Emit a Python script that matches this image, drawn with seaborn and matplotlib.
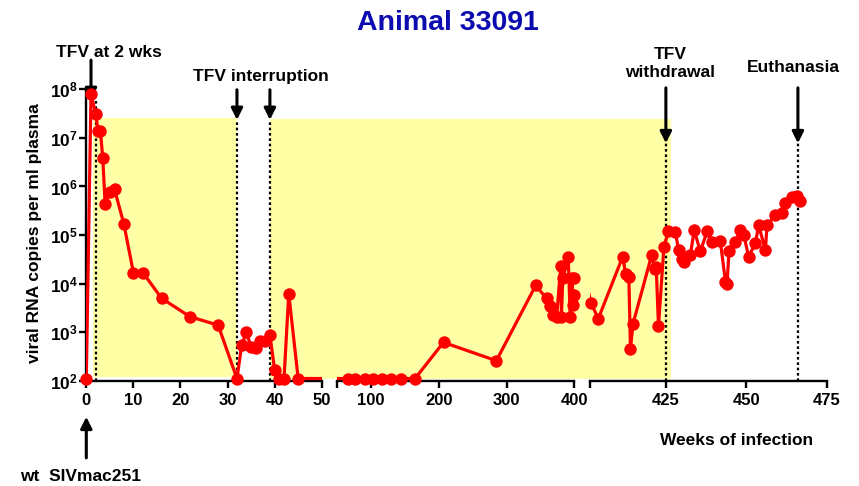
import numpy as np
import pandas as pd
import matplotlib
matplotlib.use('Agg')
import matplotlib.pyplot as plt
import seaborn as sns
from matplotlib.patches import Rectangle

# ---------------- data ----------------
weeks = [0, 1, 2, 2.5, 3, 3.5, 4, 5, 6, 8, 10, 12, 16, 22, 28,
         32, 33, 34, 35, 36, 37, 38, 39, 40, 41, 42, 43, 45,
         66, 76, 91, 103, 116, 130, 145, 165, 207, 285, 343,
         359, 364, 369, 374, 380, 381, 383, 391, 394, 397, 398, 399, 400,
         401.7, 404, 411.6, 412.5, 413.5, 414, 414.8, 420.6, 421.5, 422, 422.7, 424.4,
         425.8, 427.9, 429, 430, 430.7, 432.6, 433.8, 435.7, 437.8, 439.3, 441.9,
         443.5, 444, 444.6, 446.6, 448.1, 449.2, 450.7, 452.8, 453.8, 455.9, 456.4,
         459, 461.1, 461.9, 464.3, 465.8, 466.8]
copies = [112, 8.0e7, 3.1e7, 1.4e7, 1.4e7, 3.8e6, 4.4e5, 7.6e5, 8.7e5, 1.66e5, 1.7e4, 1.7e4, 5.0e3, 2.1e3, 1.4e3,
          112, 5.4e2, 1.0e3, 5.0e2, 4.7e2, 6.6e2, 6.5e2, 8.7e2, 1.7e2, 112, 112, 6.2e3, 112,
          112, 112, 112, 112, 112, 112, 112, 112, 6.2e2, 2.6e2, 9.2e3,
          5.0e3, 3.4e3, 2.3e3, 2.1e3, 2.3e4, 2.1e3, 1.3e4, 3.6e4, 2.1e3, 1.3e4, 3.6e3, 5.9e3, 1.3e4,
          4.1e3, 1.9e3, 3.6e4, 1.6e4, 1.4e4, 4.5e2, 1.5e3, 3.9e4, 2.0e4, 2.2e4, 1.35e3, 5.8e4,
          1.2e5, 1.15e5, 4.9e4, 3.3e4, 2.8e4, 3.9e4, 1.26e5, 4.6e4, 1.2e5, 7.3e4, 7.6e4,
          1.1e4, 1.0e4, 4.6e4, 7.3e4, 1.26e5, 1.0e5, 3.6e4, 6.8e4, 1.6e5, 4.9e4, 1.6e5,
          2.6e5, 2.8e5, 4.5e5, 6.2e5, 6.3e5, 5.1e5]

segment_limits = [(0, 50), (50, 400), (401.5, 475)]
segment_ticks = [[0, 10, 20, 30, 40, 50], [50, 100, 200, 300, 400], [401.5, 425, 450, 475]]
segment_ticklabels = [['0', '10', '20', '30', '40', '50'], ['', '100', '200', '300', '400'],
                      ['', '425', '450', '475']]
ytick_values = [1e2, 1e3, 1e4, 1e5, 1e6, 1e7, 1e8]
ytick_labels = [r'$\mathbf{10^{%d}}$' % e for e in range(2, 9)]

title = 'Animal 33091'
ylabel = 'viral RNA copies per ml plasma'
xlabel = 'Weeks of infection'

# treatment periods (yellow): start week, end week, low, high
treatment_periods = [(1.5, 32, 1.2e2, 2.6e7), (39, 426.5, 1.1e2, 2.4e7)]
# dotted event lines: week, top of line
event_lines = [(2, 10 ** 7.8), (32, 10 ** 7.37), (39, 10 ** 7.37), (425, 10 ** 6.9), (466, 10 ** 6.9)]
# arrows: week, tip, tail
event_arrows = [(1, 10 ** 7.78, 10 ** 8.6), (32, 10 ** 7.37, 10 ** 7.99), (39, 10 ** 7.37, 10 ** 7.99),
                (425, 10 ** 6.89, 10 ** 8.03), (466, 10 ** 6.89, 10 ** 8.03)]

df = pd.DataFrame({'week': weeks, 'copies': copies})

# ---------------- style ----------------
sns.set_theme(style='ticks')
plt.rcParams['font.family'] = ['Liberation Sans', 'DejaVu Sans']
plt.rcParams['font.weight'] = 'bold'
plt.rcParams['mathtext.fontset'] = 'custom'
plt.rcParams['mathtext.rm'] = 'Liberation Sans'
plt.rcParams['mathtext.bf'] = 'Liberation Sans:bold'
for key in ['text.color', 'axes.labelcolor', 'xtick.color', 'ytick.color', 'axes.edgecolor']:
    plt.rcParams[key] = 'black'

W, H = 859, 486
fig = plt.figure(figsize=(W / 100, H / 100), dpi=100)

bottom = 1 - 380.9 / H
height = (380.9 - 89.3) / H
lefts_px = [(86.3, 321.7), (337.1, 574.3), (590.2, 826.9)]
axes = []
for (l, r) in lefts_px:
    ax = fig.add_axes([l / W, bottom, (r - l) / W, height])
    ax.set_facecolor('none')
    axes.append(ax)


def axis_for(w):
    for ax, (lo, hi) in zip(axes, segment_limits):
        if lo <= w <= hi:
            return ax
    return axes[-1]


for i, ax in enumerate(axes):
    lo, hi = segment_limits[i]
    sns.lineplot(data=df, x='week', y='copies', ax=ax, color='#FF0000', lw=2.3,
                 sort=False, estimator=None, legend=False, zorder=3)
    sub = df[(df.week >= lo) & (df.week <= hi)]
    sns.scatterplot(data=sub, x='week', y='copies', ax=ax, color='#FF0000', s=80,
                    linewidth=0, legend=False, zorder=4, clip_on=False)
    ax.set_yscale('log')
    ax.set_ylim(1e2, 1e8)
    ax.set_xlim(lo, hi)
    ax.set_xticks(segment_ticks[i])
    ax.set_xticklabels(segment_ticklabels[i], fontsize=12, fontweight='bold')
    ax.set_xlabel('')
    ax.set_ylabel('')
    ax.minorticks_off()
    ax.spines['top'].set_visible(False)
    ax.spines['right'].set_visible(False)
    ax.spines['bottom'].set_linewidth(1.7)
    ax.tick_params(axis='x', direction='out', length=5, width=1.7, color='black', pad=4)
    if i == 0:
        ax.spines['left'].set_linewidth(1.7)
        ax.set_yticks(ytick_values)
        ax.set_yticklabels(ytick_labels, fontsize=12.5)
        ax.tick_params(axis='y', direction='out', length=5, width=1.7, pad=1)
        ax.yaxis.set_minor_locator(matplotlib.ticker.NullLocator())
    else:
        ax.spines['left'].set_visible(False)
        ax.set_yticks([])
        ax.tick_params(axis='y', left=False, labelleft=False)

# yellow treatment periods as figure-level rectangles spanning the axis breaks
inv = fig.transFigure.inverted()
for (x0, x1, y0, y1) in treatment_periods:
    a0 = axis_for(x0)
    a1 = axis_for(x1)
    p0 = inv.transform(a0.transData.transform((x0, y0)))
    p1 = inv.transform(a1.transData.transform((x1, y1)))
    fig.patches.append(Rectangle((p0[0], p0[1]), p1[0] - p0[0], p1[1] - p0[1],
                                 transform=fig.transFigure, facecolor='#FFFFA6',
                                 edgecolor='none', zorder=-1))

# dotted event lines
for (w, top) in event_lines:
    ax = axis_for(w)
    ax.vlines(w, 1e2, top, colors='black', linestyles=(0, (1.2, 1.2)), lw=1.6, zorder=2)

# arrows
for (w, tip, tail) in event_arrows:
    ax = axis_for(w)
    ax.annotate('', xy=(w, tip), xytext=(w, tail), annotation_clip=False,
                arrowprops=dict(arrowstyle='-|>', color='black', lw=2.2,
                                mutation_scale=17, shrinkA=0, shrinkB=0))

# infection arrow below axis
axes[0].annotate('', xy=(0, -0.123), xytext=(0, -0.264),
                 xycoords=('data', 'axes fraction'), textcoords=('data', 'axes fraction'),
                 annotation_clip=False,
                 arrowprops=dict(arrowstyle='-|>', color='black', lw=2.2,
                                 mutation_scale=17, shrinkA=0, shrinkB=0))

# texts
fig.text(448 / W, 1 - 23 / H, title, ha='center', va='center', fontsize=20.5,
         fontweight='bold', color='#0B0BB0')
fig.text(109 / W, 1 - 52.7 / H, 'TFV at 2 wks', ha='center', va='center', fontsize=12.5, fontweight='bold')
fig.text(260.7 / W, 1 - 76 / H, 'TFV interruption', ha='center', va='center', fontsize=12.5, fontweight='bold')
fig.text(670 / W, 1 - 63.5 / H, 'TFV\nwithdrawal', ha='center', va='center', fontsize=12.5,
         fontweight='bold', linespacing=1.3, multialignment='center')
fig.text(793 / W, 1 - 68 / H, 'Euthanasia', ha='center', va='center', fontsize=12.5, fontweight='bold')
fig.text(80.5 / W, 1 - 476.7 / H, 'wt  SIVmac251', ha='center', va='center', fontsize=12.5, fontweight='bold')
fig.text(736.5 / W, 1 - 440 / H, xlabel, ha='center', va='center', fontsize=12.5, fontweight='bold')
fig.text(35 / W, 1 - 233 / H, ylabel, ha='center', va='center', rotation=90, fontsize=12.5,
         fontweight='bold')

fig.savefig('out.png', dpi=100)
